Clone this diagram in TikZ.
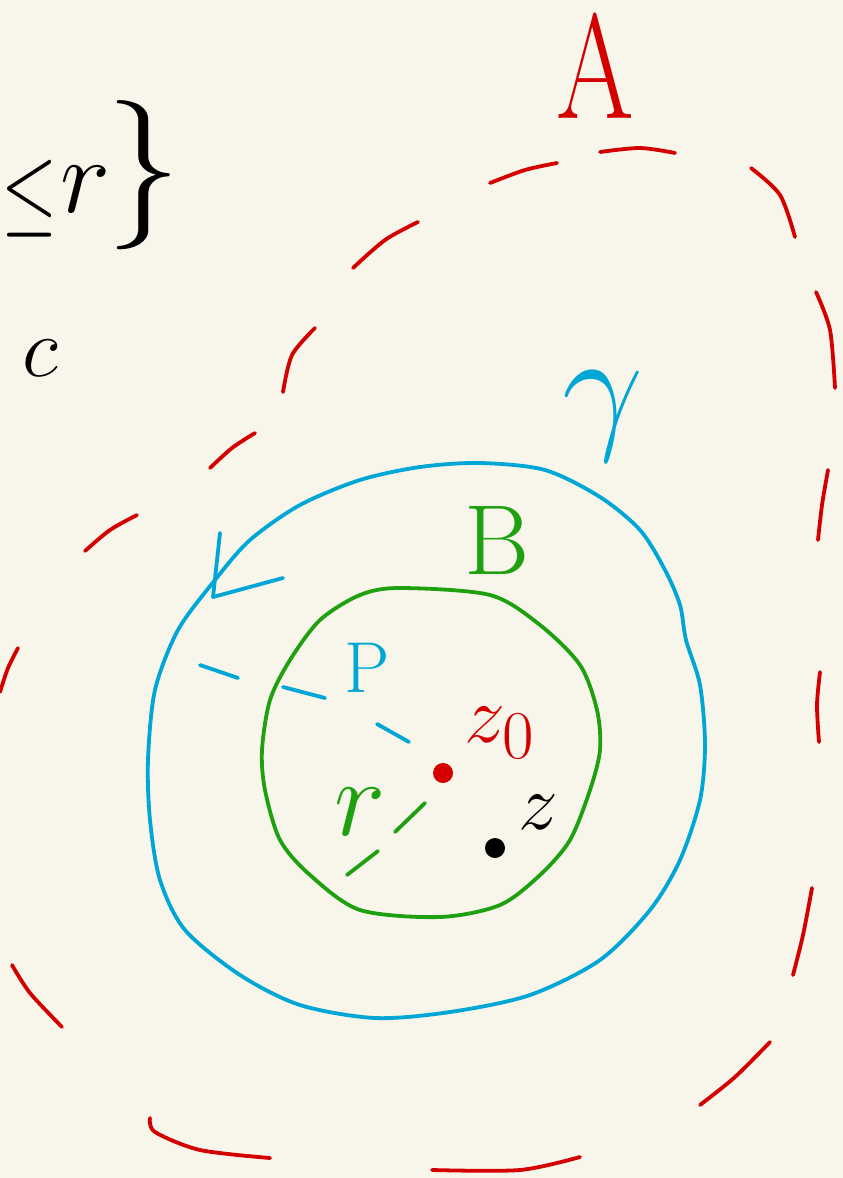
\documentclass[tikz,border=0pt]{standalone}
\usepackage{graphicx}
\definecolor{bgc}{HTML}{F8F6EA}
\definecolor{penred}{HTML}{D40000}
\definecolor{penblue}{HTML}{00A6D6}
\definecolor{pengreen}{HTML}{1FA010}
\tikzset{
  pen/.style={line width=3.8pt,line cap=round,line join=round},
  redpen/.style={pen,draw=penred},
  bluepen/.style={pen,draw=penblue},
  greenpen/.style={pen,draw=pengreen},
  blackpen/.style={pen,draw=black},
  lbl/.style={inner sep=0pt,anchor=center}
}
\newcommand{\fs}[2]{\scalebox{#1}{\Huge #2}}
\begin{document}
\begin{tikzpicture}[x=1pt,y=-1pt]
\useasboundingbox (0,0) rectangle (843,1178);
\fill[bgc] (0,0) rectangle (843,1178);

% red dashed region A
\draw[redpen] plot[smooth] coordinates {(353,268) (385,240) (418,222)};
\draw[redpen] plot[smooth] coordinates {(490,183) (525,170) (557,163)};
\draw[redpen] plot[smooth] coordinates {(600,152) (640,148) (675,153)};
\draw[redpen] plot[smooth] coordinates {(751,168) (780,195) (795,237)};
\draw[redpen] plot[smooth] coordinates {(816,292) (830,330) (835,388)};
\draw[redpen] plot[smooth] coordinates {(828,470) (822,505) (818,540)};
\draw[redpen] plot[smooth] coordinates {(820,672) (817,705) (819,742)};
\draw[redpen] plot[smooth] coordinates {(812,888) (803,935) (793,975)};
\draw[redpen] plot[smooth] coordinates {(770,1042) (735,1077) (700,1105)};
\draw[redpen] plot[smooth] coordinates {(580,1157) (520,1170) (432,1170)};
\draw[redpen] plot[smooth] coordinates {(270,1158) (200,1150) (155,1132) (150,1118)};
\draw[redpen] plot[smooth] coordinates {(62,1027) (30,993) (12,965)};
\draw[redpen] plot[smooth] coordinates {(0,692) (8,668) (18,648)};
\draw[redpen] plot[smooth] coordinates {(85,551) (110,530) (137,515)};
\draw[redpen] plot[smooth] coordinates {(210,468) (232,448) (255,433)};
\draw[redpen] plot[smooth] coordinates {(283,392) (292,355) (315,328)};
\node[lbl,text=penred,xscale=0.75] (A) at (595,68) {\fs{6}{$\mathrm{A}$}};

% blue curve gamma
\draw[bluepen] plot[smooth cycle] coordinates {(480,463) (545,470) (600,497) (640,530) (665,570) (680,605) (686,640) (700,685) (705,745) (700,800) (680,860) (650,910) (600,960) (530,995) (450,1012) (375,1018) (300,1005) (240,975) (185,930) (160,880) (150,820) (148,760) (155,690) (178,630) (215,580) (250,540) (300,505) (360,480) (420,467)};
\draw[bluepen] (220,533) -- (213,597) -- (283,578);
\node[lbl,text=penblue] (gamma) at (603,416) {\fs{5.8}{$\gamma$}};

% green disk B
\draw[greenpen] plot[smooth cycle] coordinates {(400,588) (490,595) (540,625) (580,665) (597,710) (600,750) (590,790) (570,840) (540,875) (500,905) (440,917) (360,910) (310,875) (280,840) (265,790) (262,750) (270,700) (290,660) (320,620) (360,595)};
\node[lbl,text=pengreen] (B) at (497,540) {\fs{4}{$\mathrm{B}$}};

% centre z0 and point z
\node[circle,fill=penred,inner sep=0pt,minimum size=20pt] (z0dot) at (443,773) {};
\node[lbl,text=penred] (z0) at (500,733) {\fs{3.3}{$z_{0}$}};
\node[circle,fill=black,inner sep=0pt,minimum size=20pt] (zdot) at (495,848) {};
\node[lbl,text=black] (z) at (538,812) {\fs{3.2}{$z$}};

% blue dashed radius P
\draw[bluepen] (200,665) -- (238,678);
\draw[bluepen] (283,687) -- (325,698);
\draw[bluepen] (377,724) -- (409,742);
\node[lbl,text=penblue] (P) at (367,668) {\fs{2.9}{$\mathrm{P}$}};

% green dashed radius r
\draw[greenpen] (425,803) -- (395,832);
\draw[greenpen] (378,851) -- (347,875);
\node[lbl,text=pengreen] (r) at (360,812) {\fs{4.4}{$r$}};

% black text at top left
\node[lbl,anchor=base west] (le) at (1,212) {\raisebox{-11pt}{\scalebox{2.9}[4]{\Huge$\leq$}}\hspace{3pt}\fs{4.3}{$r$}\hspace{-4pt}\fs{6}{$\}$}};
\node[lbl,anchor=base east] (c) at (58,376) {\fs{3.4}{$c$}};
\end{tikzpicture}
\end{document}
